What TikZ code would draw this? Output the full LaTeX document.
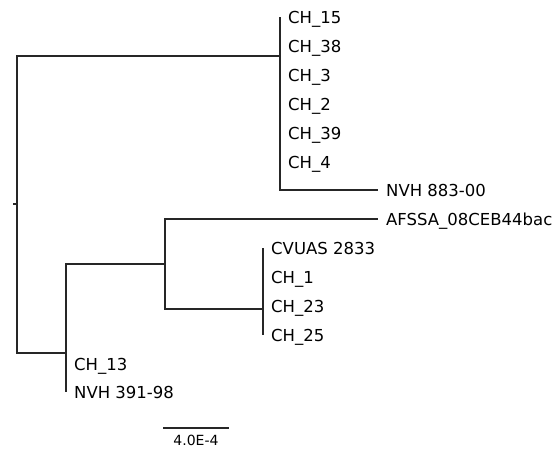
\documentclass[tikz,border=0pt]{standalone}
\usepackage{fontspec}
\setmainfont{DejaVu Sans}
\begin{document}
\begin{tikzpicture}[x=1pt,y=-1pt,
  branch/.style={draw=black!85,line width=1.3pt},
  leaf/.style={anchor=west,inner sep=0pt,xshift=8pt,text height=12pt,text depth=0pt,font=\fontsize{16.5}{20}\selectfont},
  scalelbl/.style={inner sep=0pt,text height=10pt,text depth=0pt,font=\fontsize{14}{17}\selectfont}]
\useasboundingbox (0,0) rectangle (556,448);
% internal nodes
\coordinate (root) at (17,204);
\coordinate (rtick) at (13,204);
\coordinate (n1) at (280,56);
\coordinate (n2) at (66,353);
\coordinate (n3) at (165,264);
\coordinate (n4) at (263,309);
% tips
\coordinate (t15) at (280,17);
\coordinate (t38) at (280,46);
\coordinate (t3) at (280,75);
\coordinate (t2) at (280,104);
\coordinate (t39) at (280,133);
\coordinate (t4) at (280,162);
\coordinate (t883) at (378,190);
\coordinate (tafssa) at (378,219);
\coordinate (tcvuas) at (263,248);
\coordinate (t1) at (263,277);
\coordinate (t23) at (263,306);
\coordinate (t25) at (263,335);
\coordinate (t13) at (66,364);
\coordinate (t391) at (66,392);
% labels
\node[leaf] (l15) at (t15) {CH\_15};
\node[leaf] (l38) at (t38) {CH\_38};
\node[leaf] (l3) at (t3) {CH\_3};
\node[leaf] (l2) at (t2) {CH\_2};
\node[leaf] (l39) at (t39) {CH\_39};
\node[leaf] (l4) at (t4) {CH\_4};
\node[leaf] (l883) at (t883) {NVH 883-00};
\node[leaf] (lafssa) at (tafssa) {AFSSA\_08CEB44bac};
\node[leaf] (lcvuas) at (tcvuas) {CVUAS 2833};
\node[leaf] (l1) at (t1) {CH\_1};
\node[leaf] (l23) at (t23) {CH\_23};
\node[leaf] (l25) at (t25) {CH\_25};
\node[leaf] (l13) at (t13) {CH\_13};
\node[leaf] (l391) at (t391) {NVH 391-98};
% branches
\draw[branch] (rtick) -- (root);
\draw[branch] (root) |- (n1);
\draw[branch] (root) |- (n2);
\foreach \t in {t15,t38,t3,t2,t39,t4,t883} \draw[branch] (n1) |- (\t);
\draw[branch] (n2) |- (n3);
\draw[branch] (n2) |- (t13);
\draw[branch] (n2) |- (t391);
\draw[branch] (n3) |- (tafssa);
\draw[branch] (n3) |- (n4);
\foreach \t in {tcvuas,t1,t23,t25} \draw[branch] (n4) |- (\t);
% scale bar
\coordinate (sb1) at (163,428);
\coordinate (sb2) at (229,428);
\draw[branch] (sb1) -- (sb2);
\node[scalelbl] (sblbl) at (196,440) {4.0E-4};
\end{tikzpicture}
\end{document}
